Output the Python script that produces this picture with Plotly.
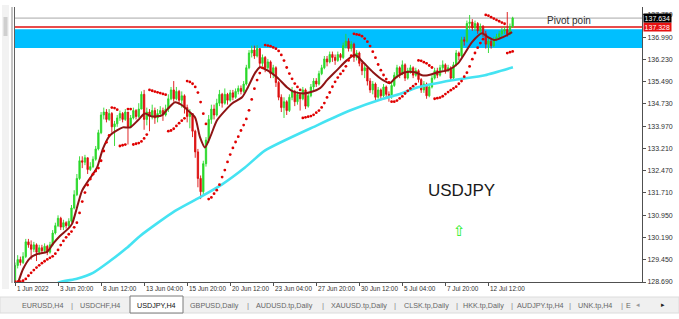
import plotly.graph_objects as go

# ---------------- data ----------------
first_open = 128.75
close = [129.25, 129.45, 129.35, 129.55, 130.05, 129.95, 129.80, 129.95, 129.70, 129.85,
         129.75, 129.90, 129.70, 129.95, 130.35, 130.60, 130.85, 130.55, 130.70, 130.60,
         130.75, 131.20, 131.65, 132.20, 132.80, 132.75, 132.90, 132.50, 132.60, 132.85,
         133.20, 133.75, 134.35, 134.45, 134.20, 134.40, 133.95, 134.05, 134.25, 134.40,
         134.20, 134.45, 133.95, 134.25, 134.50, 134.30, 134.55, 135.05, 134.20, 134.45,
         134.30, 134.50, 134.25, 134.40, 134.50, 134.35, 134.55, 134.90, 135.20, 134.90,
         135.15, 134.85, 135.00, 134.60, 134.30, 134.40, 133.80, 133.10, 132.20, 131.75,
         132.70, 133.50, 134.20, 134.55, 134.35, 134.75, 135.05, 134.75, 135.05, 134.85,
         135.10, 134.95, 135.15, 135.25, 135.15, 135.40, 135.95, 136.45, 136.55, 136.35,
         136.60, 136.10, 136.30, 135.95, 136.15, 135.75, 135.95, 135.45, 134.95, 134.60,
         134.80, 134.50, 134.95, 135.15, 134.80, 135.05, 134.90, 135.20, 134.65, 135.00,
         135.30, 135.50, 135.40, 135.75, 135.95, 136.25, 136.15, 136.40, 136.30, 136.20,
         136.40, 136.30, 136.70, 136.85, 136.60, 136.75, 136.30, 136.45, 136.10, 135.85,
         135.95, 135.50, 135.20, 135.40, 134.95, 135.20, 135.00, 135.30, 135.05, 135.00,
         135.35, 135.70, 135.95, 135.75, 136.05, 135.60, 135.85, 135.95, 135.70, 135.85,
         135.55, 135.20, 135.40, 135.00, 135.30, 135.60, 135.85, 135.70, 135.95, 136.05,
         135.85, 135.95, 135.60, 136.05, 136.45, 136.35, 136.90, 136.85, 137.45, 137.50,
         137.30, 137.45, 137.20, 137.35, 137.10, 136.75, 136.85, 136.70, 136.90, 137.00,
         137.10, 137.20, 137.25, 137.10, 137.35, 137.634]
high = [129.35, 129.60, 129.55, 129.70, 130.15, 130.15, 130.10, 130.05, 130.00, 129.95,
        129.95, 130.00, 129.95, 130.05, 130.45, 130.70, 130.95, 130.90, 130.80, 130.75,
        130.85, 131.30, 131.80, 132.35, 132.95, 132.95, 133.00, 132.90, 132.75, 132.95,
        133.30, 133.85, 134.45, 134.60, 134.55, 134.55, 134.45, 134.15, 134.35, 134.50,
        134.45, 134.55, 134.45, 134.35, 134.60, 134.55, 134.75, 135.15, 135.20, 134.60,
        134.55, 134.70, 134.60, 134.55, 134.65, 134.60, 134.70, 135.05, 135.30, 135.50,
        135.30, 135.20, 135.15, 135.05, 134.70, 134.55, 134.40, 133.85, 133.20, 132.30,
        132.80, 133.60, 134.35, 134.70, 134.70, 134.90, 135.20, 135.10, 135.25, 135.10,
        135.20, 135.20, 135.25, 135.35, 135.35, 135.50, 136.05, 136.55, 136.70, 136.70,
        136.72, 136.60, 136.40, 136.35, 136.25, 136.20, 136.05, 136.00, 135.50, 135.05,
        134.95, 134.85, 135.05, 135.30, 135.20, 135.15, 135.10, 135.30, 135.25, 135.10,
        135.40, 135.60, 135.60, 135.85, 136.05, 136.35, 136.35, 136.50, 136.50, 136.40,
        136.50, 136.45, 136.80, 137.10, 136.95, 136.85, 136.80, 136.55, 136.50, 136.20,
        136.05, 136.00, 135.60, 135.50, 135.45, 135.30, 135.25, 135.40, 135.35, 135.15,
        135.45, 135.80, 136.05, 136.00, 136.20, 136.10, 135.95, 136.05, 136.00, 135.95,
        135.90, 135.60, 135.50, 135.45, 135.40, 135.70, 135.95, 135.95, 136.05, 136.20,
        136.10, 136.05, 136.00, 136.15, 136.55, 136.50, 137.00, 137.00, 137.55, 137.74,
        137.60, 137.55, 137.50, 137.45, 137.40, 137.20, 137.00, 136.95, 137.00, 137.10,
        137.20, 137.30, 137.35, 137.84, 137.45, 137.68]
low = [128.70, 129.15, 129.25, 129.30, 129.50, 129.85, 129.45, 129.70, 129.40, 129.60,
       129.65, 129.70, 129.60, 129.65, 129.90, 130.30, 130.55, 130.45, 130.45, 130.50,
       130.55, 130.70, 131.15, 131.60, 132.15, 132.55, 132.65, 132.35, 132.45, 132.55,
       132.80, 133.15, 133.70, 134.20, 134.10, 134.15, 133.75, 133.30, 133.95, 134.15,
       134.10, 134.15, 133.35, 133.90, 134.20, 134.20, 134.25, 134.75, 133.85, 134.00,
       133.80, 134.20, 134.05, 134.10, 134.30, 134.15, 134.30, 134.45, 134.85, 134.80,
       134.85, 134.70, 134.60, 134.40, 134.10, 133.90, 133.60, 132.90, 131.90, 131.50,
       131.65, 132.60, 133.40, 134.05, 134.20, 134.30, 134.65, 134.60, 134.70, 134.70,
       134.80, 134.85, 134.90, 135.05, 135.05, 135.10, 135.35, 135.90, 136.30, 136.25,
       136.30, 135.95, 136.00, 135.80, 135.85, 135.60, 135.60, 135.30, 134.85, 134.45,
       134.25, 134.35, 134.45, 134.85, 134.65, 134.70, 134.50, 134.85, 134.55, 134.60,
       134.95, 135.20, 135.30, 135.35, 135.70, 135.90, 136.00, 136.10, 136.15, 136.05,
       136.15, 136.20, 136.25, 136.60, 136.50, 136.50, 136.15, 136.20, 136.00, 135.70,
       135.60, 135.35, 135.10, 135.05, 134.85, 134.90, 134.85, 134.95, 134.95, 134.80,
       134.90, 135.30, 135.60, 135.60, 135.70, 135.50, 135.55, 135.75, 135.60, 135.65,
       135.45, 135.10, 135.10, 134.90, 134.95, 135.25, 135.55, 135.60, 135.65, 135.85,
       135.75, 135.80, 135.50, 135.55, 136.00, 136.20, 136.30, 136.70, 136.80, 137.25,
       137.20, 137.20, 137.10, 137.10, 137.00, 136.60, 136.45, 136.60, 136.65, 136.85,
       136.95, 137.00, 137.10, 137.00, 137.05, 137.30]

# dark red moving average, read at bar positions
ma_idx = [0, 1.1, 3.0, 5.6, 8.2, 11.9, 14.1, 16.7, 19.7, 21.2, 23.0, 24.9, 26.8, 28.6, 30.5,
          32.7, 35.3, 37.9, 40.1, 42.8, 45.7, 48.3, 50.9, 54.6, 56.9, 59.5, 62.1, 64.3, 66.9,
          68.8, 70.6, 72.5, 75.1, 78.1, 80.7, 84.4, 86.6, 89.2, 91.1, 93.7, 97.4, 101.1, 103.3,
          107.1, 109.7, 113.4, 116.0, 119.7, 123.4, 126.4, 129.4, 133.1, 136.8, 139.4, 141.3,
          145.0, 148.7, 151.3, 153.5, 157.2, 161.0, 164.7, 167.3, 169.9, 173.6, 175.8, 178.4,
          181.4, 184.8]
ma_val = [128.40, 128.66, 129.13, 129.50, 129.64, 129.71, 129.98, 130.25, 130.49, 130.66,
          131.20, 131.78, 132.06, 132.30, 132.57, 133.21, 133.66, 133.83, 133.93, 133.93,
          134.17, 134.40, 134.30, 134.34, 134.57, 134.78, 134.68, 134.50, 134.27, 133.59,
          133.25, 133.59, 134.17, 134.50, 134.74, 134.95, 135.29, 135.77, 135.97, 135.87,
          135.63, 135.29, 135.15, 135.08, 135.12, 135.26, 135.53, 135.87, 136.21, 136.38,
          136.14, 135.80, 135.53, 135.43, 135.60, 135.80, 135.80, 135.70, 135.70, 135.80,
          135.87, 136.10, 136.45, 136.82, 137.12, 136.99, 136.89, 136.99, 137.16]

# cyan long moving average
cy_idx = [11.2, 16.0, 23.0, 29.0, 35.3, 41.6, 46.5, 59.5, 69.5, 77.0, 85.5, 93.0, 112.3,
          124.5, 136.8, 143.1, 149.8, 162.5, 174.7, 185.1]
cy_val = [128.30, 128.66, 128.80, 129.00, 129.40, 129.85, 130.25, 131.10, 131.60, 132.00,
          132.57, 133.15, 134.00, 134.50, 134.90, 135.06, 135.29, 135.53, 135.70, 135.97]

x_tick_idx = [0, 16, 32, 48, 64, 80, 96, 112, 128, 144, 160, 176]
x_tick_text = ["1 Jun 2022", "3 Jun 20:00", "8 Jun 12:00", "13 Jun 04:00", "15 Jun 20:00",
               "20 Jun 12:00", "23 Jun 04:00", "27 Jun 20:00", "30 Jun 12:00", "5 Jul 04:00",
               "7 Jul 20:00", "12 Jul 12:00"]
y_ticks = [128.690, 129.450, 130.190, 130.950, 131.710, 132.470, 133.210, 133.970,
           134.730, 135.490, 136.230, 136.990, 137.750]

bid_price = 137.634
pivot_price = 137.328
zone_low, zone_high = 136.62, 137.26

tab_labels = ["EURUSD,H4", "USDCHF,H4", "USDJPY,H4", "GBPUSD,Daily", "AUDUSD.tp,Daily",
              "XAUUSD.tp,Daily", "CLSK.tp,Daily", "HKK.tp,Daily", "AUDJPY.tp,H4",
              "UNK.tp,H4", "E"]
active_tab = "USDJPY,H4"

# ---------------- derived ----------------
n = len(close)
bars = list(range(n))
opens = [first_open] + close[:-1]


def parabolic_sar(h, l, step=0.02, maxstep=0.2):
    out = [l[0]]
    up = True
    af = step
    ep = h[0]
    for i in range(1, len(h)):
        prev = out[-1]
        s = prev + af * (ep - prev)
        if up:
            s = min(s, l[i - 1], l[max(i - 2, 0)])
            if l[i] < s:
                up, s, ep, af = False, ep, l[i], step
            elif h[i] > ep:
                ep, af = h[i], min(af + step, maxstep)
        else:
            s = max(s, h[i - 1], h[max(i - 2, 0)])
            if h[i] > s:
                up, s, ep, af = True, ep, h[i], step
            elif l[i] < ep:
                ep, af = l[i], min(af + step, maxstep)
        out.append(s)
    return out


sar = parabolic_sar(high, low)

# ---------------- layout geometry ----------------
W, H = 679, 319
L, R, T, B = 14, 642, 7, 282
Y0, Y1 = 128.69, 138.01


def pxx(px):
    return (px - L) / (R - L)


def pxy(py):
    return (B - py) / (B - T)


FONT = "Liberation Sans, Arial, sans-serif"

fig = go.Figure()
fig.add_trace(go.Candlestick(
    x=bars, open=opens, high=high, low=low, close=close,
    increasing=dict(line=dict(color="#2ad82a", width=0.9), fillcolor="#2ad82a"),
    decreasing=dict(line=dict(color="#dd0f0f", width=0.9), fillcolor="#dd0f0f"),
    whiskerwidth=0, showlegend=False, hoverinfo="skip"))
fig.add_trace(go.Scatter(x=cy_idx, y=cy_val, mode="lines",
                         line=dict(color="#45e3f2", width=2.6, shape="spline", smoothing=0.6),
                         showlegend=False, hoverinfo="skip"))
fig.add_trace(go.Scatter(x=ma_idx, y=ma_val, mode="lines",
                         line=dict(color="#8e1414", width=2, shape="spline", smoothing=0.7),
                         showlegend=False, hoverinfo="skip"))
fig.add_trace(go.Scatter(x=bars, y=sar, mode="markers",
                         marker=dict(color="#e00000", size=2.8),
                         showlegend=False, hoverinfo="skip"))

shapes = []
# blue zone, pivot line, bid line
shapes.append(dict(type="rect", xref="paper", yref="y", x0=0, x1=1, y0=zone_low, y1=zone_high,
                   fillcolor="#00bfff", line=dict(width=0), layer="below"))
shapes.append(dict(type="line", xref="paper", yref="y", x0=0, x1=1, y0=pivot_price, y1=pivot_price,
                   line=dict(color="#e01010", width=1.5), layer="below"))
shapes.append(dict(type="line", xref="paper", yref="y", x0=0, x1=1, y0=bid_price, y1=bid_price,
                   line=dict(color="#a8a8a8", width=1), layer="below"))
# left frame double line and scrollbar
shapes.append(dict(type="line", xref="paper", yref="paper", x0=pxx(12), x1=pxx(12),
                   y0=pxy(T), y1=pxy(283), line=dict(color="#8a8a8a", width=1)))
shapes.append(dict(type="line", xref="paper", yref="paper", x0=pxx(14.5), x1=pxx(14.5),
                   y0=pxy(T), y1=pxy(282), line=dict(color="#606060", width=1)))
shapes.append(dict(type="rect", xref="paper", yref="paper", x0=pxx(2), x1=pxx(9),
                   y0=pxy(289), y1=pxy(5), fillcolor="#f2f2f2", line=dict(width=0)))
shapes.append(dict(type="rect", xref="paper", yref="paper", x0=pxx(3.5), x1=pxx(7.5),
                   y0=pxy(36), y1=pxy(17), fillcolor="#cfcfcf", line=dict(width=0)))
# tab bar
shapes.append(dict(type="rect", xref="paper", yref="paper", x0=pxx(0), x1=pxx(W),
                   y0=pxy(313), y1=pxy(297), fillcolor="#f0f0f0",
                   line=dict(color="#dcdcdc", width=1)))
shapes.append(dict(type="rect", xref="paper", yref="paper", x0=pxx(130), x1=pxx(183),
                   y0=pxy(313), y1=pxy(296), fillcolor="#ffffff",
                   line=dict(color="#7a7a7a", width=1)))

annotations = []
for idx, txt in zip(x_tick_idx, x_tick_text):
    annotations.append(dict(x=idx, xref="x", y=0, yref="paper", xanchor="left", yanchor="top",
                            yshift=-1, text=txt, showarrow=False,
                            font=dict(family=FONT, size=6.4, color="#303030")))

# price labels on the right axis
annotations.append(dict(x=pxx(643), xref="paper", y=pivot_price, yref="y", xanchor="left",
                        yanchor="middle", text="137.328", showarrow=False, bgcolor="#e81010",
                        borderpad=0.6, font=dict(family=FONT, size=7, color="#ffffff")))
annotations.append(dict(x=pxx(643), xref="paper", y=bid_price, yref="y", xanchor="left",
                        yanchor="middle", text="137.634", showarrow=False, bgcolor="#000000",
                        borderpad=0.6, font=dict(family=FONT, size=7, color="#ffffff")))

# chart texts
annotations.append(dict(x=pxx(545), xref="paper", y=pxy(20.5), yref="paper", xanchor="left",
                        yanchor="middle", text="Pivot poin", showarrow=False,
                        font=dict(family=FONT, size=10, color="#303030")))
annotations.append(dict(x=pxx(461), xref="paper", y=pxy(190), yref="paper", xanchor="center",
                        yanchor="middle", text="USDJPY", showarrow=False,
                        font=dict(family=FONT, size=17, color="#1a1a1a")))
annotations.append(dict(x=pxx(459), xref="paper", y=pxy(231), yref="paper", xanchor="center",
                        yanchor="middle", text="⇧", showarrow=False,
                        font=dict(family="DejaVu Sans", size=15, color="#22ee22")))

# tabs
tab_centers = [43, 100, 156, 214, 284, 359, 426, 484, 540, 595, 628]
for cx, lab in zip(tab_centers, tab_labels):
    annotations.append(dict(x=pxx(cx), xref="paper", y=pxy(305), yref="paper",
                            xanchor="center", yanchor="middle", text=lab, showarrow=False,
                            font=dict(family=FONT, size=7.2,
                                      color="#111111" if lab == active_tab else "#666666")))
for sx in [72, 248, 323, 395, 457, 512, 570, 622]:
    annotations.append(dict(x=pxx(sx), xref="paper", y=pxy(305), yref="paper",
                            xanchor="center", yanchor="middle", text="|", showarrow=False,
                            font=dict(family=FONT, size=8, color="#8a8a8a")))
annotations.append(dict(x=pxx(638), xref="paper", y=pxy(305), yref="paper", xanchor="center",
                        yanchor="middle", text="◂", showarrow=False,
                        font=dict(family="DejaVu Sans", size=7, color="#9a9a9a")))
annotations.append(dict(x=pxx(663), xref="paper", y=pxy(305), yref="paper", xanchor="center",
                        yanchor="middle", text="▸", showarrow=False,
                        font=dict(family="DejaVu Sans", size=7, color="#222222")))

fig.update_layout(
    width=W, height=H,
    margin=dict(l=L, r=W - R, t=T, b=H - B),
    paper_bgcolor="#ffffff", plot_bgcolor="#ffffff",
    showlegend=False,
    shapes=shapes, annotations=annotations,
    xaxis=dict(range=[(L - 15) / 2.69, (R - 15) / 2.69], showgrid=False, zeroline=False,
               rangeslider=dict(visible=False), showline=True, linecolor="#505050", linewidth=1,
               tickmode="array", tickvals=x_tick_idx, ticktext=[""] * len(x_tick_idx),
               ticks="outside", ticklen=3, tickcolor="#505050", fixedrange=True),
    yaxis=dict(range=[Y0, Y1], side="right", showgrid=False, zeroline=False,
               showline=True, linecolor="#505050", linewidth=1,
               tickmode="array", tickvals=y_ticks, ticktext=[f"{v:.3f}" for v in y_ticks],
               ticks="outside", ticklen=3, tickcolor="#505050",
               tickfont=dict(family=FONT, size=7, color="#303030"), fixedrange=True),
)

fig.write_html("out.html")
